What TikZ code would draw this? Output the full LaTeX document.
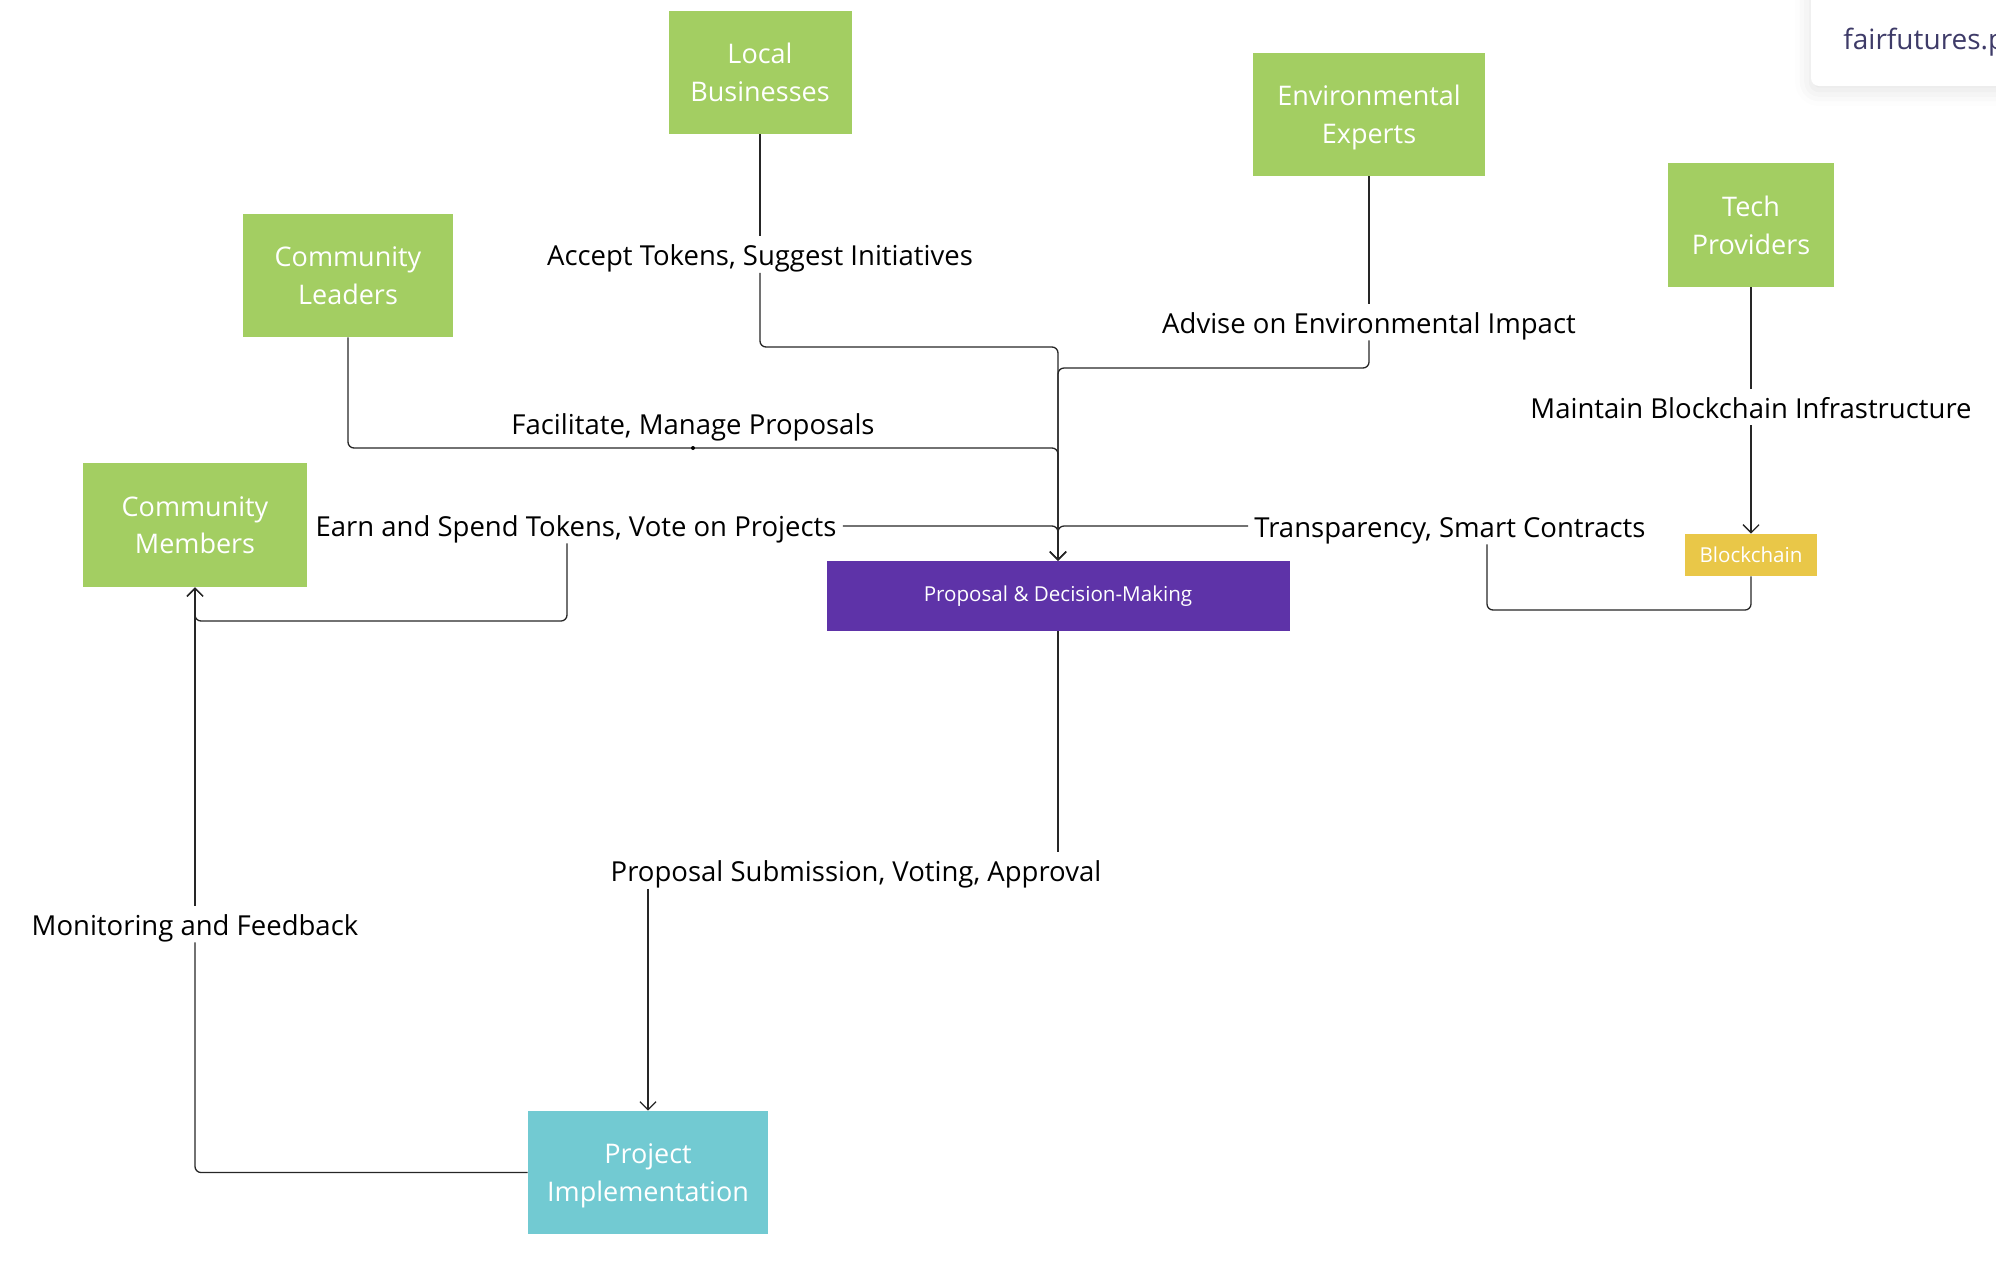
\documentclass[tikz,border=0pt]{standalone}
\usepackage{fontspec}
\setmainfont{Open Sans}
\usetikzlibrary{arrows.meta,shadows.blur}

\definecolor{leafgreen}{HTML}{A3CE62}
\definecolor{decpurple}{HTML}{5E33A8}
\definecolor{implteal}{HTML}{72CAD2}
\definecolor{chainyellow}{HTML}{E9C748}
\definecolor{brandink}{HTML}{3E3B68}

\begin{document}
\begin{tikzpicture}[x=0.5pt,y=-0.5pt]
      \tikzset{stakeholder/.style={fill=leafgreen, text=white, align=center, inner sep=0pt, text depth=0pt, font=\fontsize{13.5}{18.8}\selectfont},
               hub/.style={fill=decpurple, text=white, inner sep=0pt, font=\fontsize{10.3}{12}\selectfont},
               rel/.style={inner xsep=3pt, inner ysep=0pt, text height=14.7pt, text depth=3.3pt, font=\fontsize{13.75}{16}\selectfont},
               link/.style={draw=black!85, line width=0.65pt, rounded corners=3pt},
               arrowlink/.style={link, -{Straight Barb[length=4pt,width=8pt]}}}
      \useasboundingbox (0,0) rectangle (1996,1270);
%% Card
      \fill[white, rounded corners=4pt, blur shadow={shadow xshift=0pt, shadow yshift=-2pt, shadow blur radius=8pt, shadow opacity=12}] (1811,-30) rectangle (2040,86);
      \node[anchor=west, text=brandink, inner sep=0pt, font=\fontsize{14}{16}\selectfont] (brand) at (1843,42) {fairfutures.p};
%% Vertices
	%stakeholders
      	\node[stakeholder, minimum width=91.5pt, minimum height=61.5pt] (lb) at (760,72.5) {Local\\Businesses};
      	\node[stakeholder, minimum width=116pt, minimum height=61.5pt] (ee) at (1369,114.5) {Environmental\\Experts};
      	\node[stakeholder, minimum width=83pt, minimum height=62pt] (tp) at (1751,225) {Tech\\Providers};
      	\node[stakeholder, minimum width=105pt, minimum height=61.5pt] (cl) at (348,275.5) {Community\\Leaders};
      	\node[stakeholder, minimum width=112pt, minimum height=62pt] (cm) at (195,525) {Community\\Members};
	%core
      	\node[hub, minimum width=231.5pt, minimum height=35pt] (pd) at (1058,596) {Proposal \& Decision-Making};
      	\node[hub, fill=chainyellow, minimum width=66pt, minimum height=21pt] (bc) at (1751,555) {Blockchain};
      	\node[stakeholder, fill=implteal, minimum width=120pt, minimum height=61.5pt] (pi) at (648,1172.5) {Project\\Implementation};
%% Labels
      	\node[rel] (acc) at (760,254.5) {Accept Tokens, Suggest Initiatives};
      	\node[rel] (adv) at (1369,322) {Advise on Environmental Impact};
      	\node[rel] (fac) at (693,423) {Facilitate, Manage Proposals};
      	\node[rel] (earn) at (576,525) {Earn and Spend Tokens, Vote on Projects};
      	\node[rel] (trans) at (1450,526) {Transparency, Smart Contracts};
      	\node[rel] (maint) at (1751,407) {Maintain Blockchain Infrastructure};
      	\node[rel] (psva) at (856,870.5) {Proposal Submission, Voting, Approval};
      	\node[rel] (mon) at (195,924) {Monitoring and Feedback};
      	\coordinate (facdot) at (693,448);
%Edges
		\draw[link] (lb) -- (acc);
		\draw[arrowlink] (acc) |- (pd.north |- 0,347) -- (pd.north);
		\draw[link] (ee) -- (adv);
		\draw[arrowlink] (adv) |- (pd.north |- 0,368) -- (pd.north);
		\draw[arrowlink] (cl) |- (pd.north |- 0,448) -- (pd.north);
		\fill (facdot) circle (1pt);
		\draw[arrowlink] (earn.east |- 0,526) -- (pd.north |- 0,526) -- (pd.north);
		\draw[arrowlink] (earn.south -| 567,0) |- (cm.south |- 0,621) -- (cm.south);
		\draw[arrowlink] (trans.west |- 0,526) -- (pd.north |- 0,526) -- (pd.north);
		\draw[link] (bc) |- (1487,610) -- (trans.south -| 1487,0);
		\draw[link] (tp) -- (maint);
		\draw[arrowlink] (maint) -- (bc);
		\draw[link] (pd) -- (pd.south |- psva.north);
		\draw[arrowlink] (psva.south -| pi.north) -- (pi.north);
		\draw[link] (pi) -| (mon);
		\draw[arrowlink] (mon) -- (cm);

\end{tikzpicture}
\end{document}
